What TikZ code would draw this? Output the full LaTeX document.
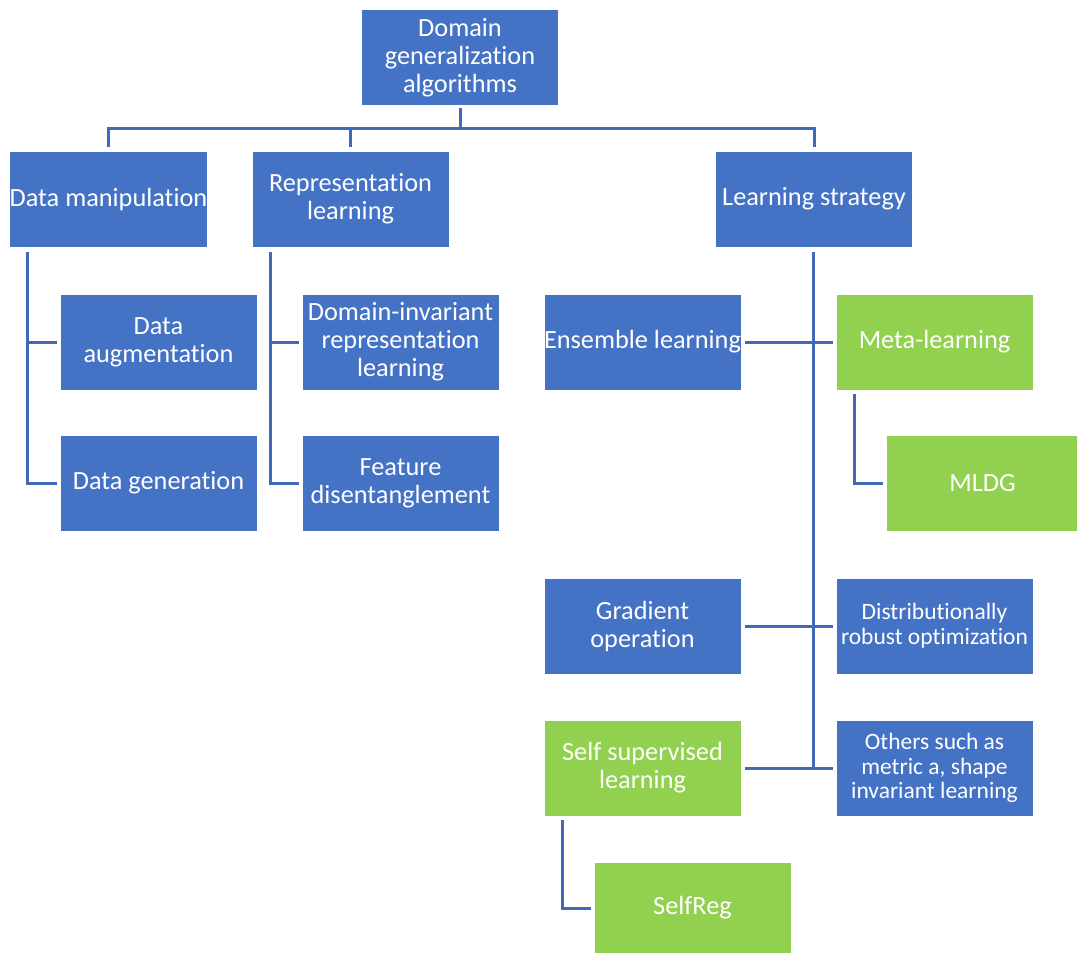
\documentclass[tikz,border=0pt]{standalone}
\usepackage{fontspec}
\setmainfont{Carlito}[Ligatures=NoCommon]
\definecolor{boxblue}{HTML}{4472C4}
\definecolor{boxgreen}{HTML}{92D050}
\definecolor{linecol}{HTML}{4169B8}
\tikzset{
  box/.style={rectangle, fill=boxblue, draw=white, line width=0.6pt, text=white, minimum width=197pt, minimum height=96pt, inner sep=0pt, align=center, font=\fontsize{26.3}{28}\selectfont},
  gbox/.style={box, fill=boxgreen},
  small/.style={font=\fontsize{23.5}{24.7}\selectfont},
  conn/.style={draw=linecol, line width=3pt}
}
\begin{document}
\begin{tikzpicture}[x=1pt,y=-1pt]
\useasboundingbox (0,0) rectangle (1077,953);
\node[box] (root) at (460,57.5) {Domain\\generalization\\algorithms};
\node[box] (dm) at (108.5,199) {Data manipulation};
\node[box] (rl) at (350.5,199) {Representation\\learning};
\node[box] (ls) at (814,199) {Learning strategy};
\node[box] (da) at (158.5,342) {Data\\augmentation};
\node[box] (dg) at (158.5,483) {Data generation};
\node[box] (di) at (400.5,342) {Domain-invariant\\representation\\learning};
\node[box] (fd) at (400.5,483) {Feature\\disentanglement};
\node[box] (el) at (642.5,342) {Ensemble learning};
\node[gbox] (ml) at (934.5,342) {Meta-learning};
\node[gbox, minimum width=193pt] (mldg) at (982.5,483) {MLDG};
\node[box] (go) at (642.5,626) {Gradient\\operation};
\node[box, small] (dro) at (934.5,626) {Distributionally\\robust optimization};
\node[gbox] (ssl) at (642.5,768) {Self supervised\\learning};
\node[box, small] (oth) at (934.5,768) {Others such as\\metric a, shape\\invariant learning};
\node[gbox, minimum height=92pt] (sr) at (692.5,908) {SelfReg};

% top level bus
\coordinate (bus) at (460,128);
\draw[conn] ([yshift=-2pt]root.south) -- (root.south |- bus);
\draw[conn] ([yshift=4pt]dm.north) |- (bus) -| ([yshift=4pt]ls.north);
\draw[conn] (rl.north |- bus) -- ([yshift=4pt]rl.north);

% data manipulation
\coordinate (dmt) at (27,252);
\draw[conn] (dmt) |- ([xshift=-3pt]dg.west);
\draw[conn] (dmt |- da.west) -- ([xshift=-3pt]da.west);

% representation learning
\coordinate (rlt) at (270,252);
\draw[conn] (rlt) |- ([xshift=-3pt]fd.west);
\draw[conn] (rlt |- di.west) -- ([xshift=-3pt]di.west);

% learning strategy
\coordinate (lst) at (813,252);
\draw[conn] (lst) -- (lst |- oth.west);
\draw[conn] ([xshift=4pt]el.east) -- ([xshift=-3pt]ml.west);
\draw[conn] ([xshift=4pt]go.east) -- ([xshift=-3pt]dro.west);
\draw[conn] ([xshift=4pt]ssl.east) -- ([xshift=-3pt]oth.west);

% meta-learning
\coordinate (mlt) at (854,394);
\draw[conn] (mlt) |- ([xshift=-3pt]mldg.west);

% self supervised
\coordinate (sslt) at (562,820);
\draw[conn] (sslt) |- ([xshift=-3pt]sr.west);
\end{tikzpicture}
\end{document}
